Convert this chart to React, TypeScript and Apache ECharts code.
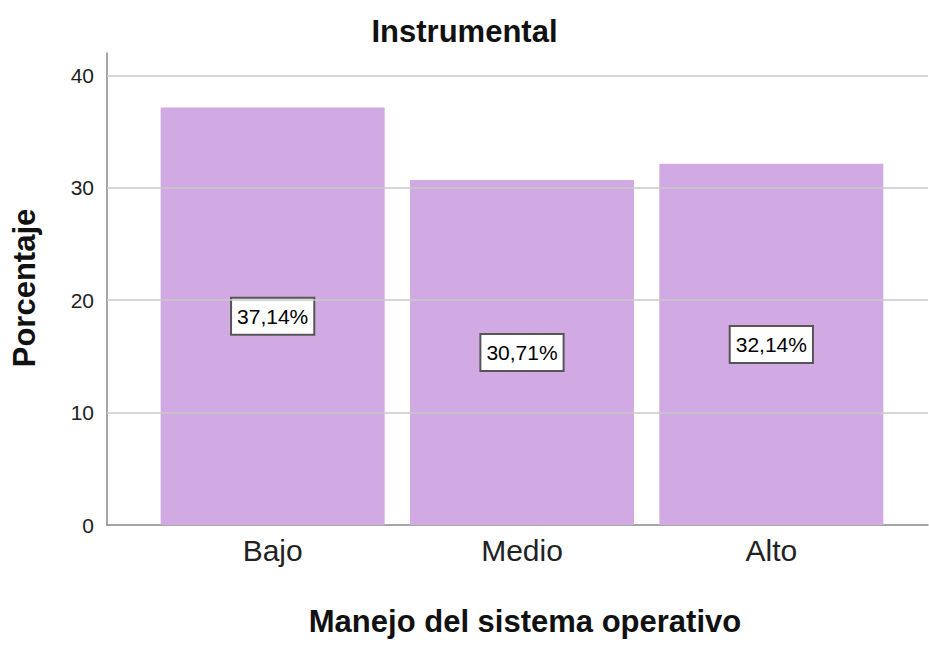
import React, { useEffect, useRef } from "react";
import * as echarts from "echarts";

const categories = ["Bajo", "Medio", "Alto"];
const values = [37.14, 30.71, 32.14];
const yTicks = [0, 10, 20, 30, 40];
const chartTitle = "Instrumental";
const xTitle = "Manejo del sistema operativo";
const yTitle = "Porcentaje";

const FONT = "'Liberation Sans', Arial, sans-serif";

export default function App() {
  const ref = useRef<HTMLDivElement>(null);
  useEffect(() => {
    document.body.style.margin = "0";
    const chart = echarts.init(ref.current!, null, { renderer: "svg" });
    const yMax = 42;
    chart.setOption({
      animation: false,
      backgroundColor: "#ffffff",
      title: {
        text: chartTitle,
        left: "center",
        top: 11,
        textStyle: { fontFamily: FONT, fontSize: 31, fontWeight: "bold", color: "#111" },
      },
      grid: [
        { left: 107, right: 1, top: 53, bottom: 121 },
        { left: 148, right: 33, top: 53, bottom: 121 },
      ],
      xAxis: [
        {
          gridIndex: 0,
          type: "value",
          min: 0,
          max: 1,
          axisLine: { show: true, onZero: false, lineStyle: { color: "#888", width: 1.5 } },
          axisTick: { show: false },
          axisLabel: { show: false },
          splitLine: { show: false },
        },
        {
          gridIndex: 1,
          type: "category",
          data: categories,
          axisLine: { show: false },
          axisTick: { show: false },
          axisLabel: { fontFamily: FONT, fontSize: 30, color: "#222", margin: 10 },
        },
      ],
      yAxis: [
        {
          gridIndex: 0,
          type: "value",
          min: 0,
          max: yMax,
          interval: 10,
          axisLine: { show: true, lineStyle: { color: "#888", width: 1.5 } },
          axisTick: { show: false },
          axisLabel: {
            fontFamily: FONT,
            fontSize: 21,
            color: "#222",
            margin: 13,
            formatter: (v: number) => (yTicks.includes(v) ? String(v) : ""),
          },
          splitLine: { show: false },
        },
        {
          gridIndex: 1,
          type: "value",
          min: 0,
          max: yMax,
          show: false,
          splitLine: { show: false },
        },
      ],
      graphic: [
        {
          type: "text",
          x: 24,
          y: 288,
          rotation: Math.PI / 2,
          style: {
            text: yTitle,
            fontFamily: FONT,
            fontSize: 31,
            fontWeight: "bold",
            fill: "#111",
            align: "center",
            verticalAlign: "middle",
          },
        },
        {
          type: "text",
          x: 525,
          y: 621,
          style: {
            text: xTitle,
            fontFamily: FONT,
            fontSize: 31,
            fontWeight: "bold",
            fill: "#111",
            align: "center",
            verticalAlign: "middle",
          },
        },
      ],
      series: [
        {
          type: "line",
          xAxisIndex: 0,
          yAxisIndex: 0,
          data: [],
          silent: true,
          markLine: {
            silent: true,
            symbol: "none",
            label: { show: false },
            lineStyle: { color: "#c8c8c8", width: 1.5, type: "solid" },
            data: yTicks.filter((t) => t > 0).map((t) => ({ yAxis: t })),
          },
          z: 0,
        },
        {
          type: "bar",
          xAxisIndex: 1,
          yAxisIndex: 1,
          data: values,
          barWidth: 224,
          z: 2,
          itemStyle: { color: "#d1aae4" },
          label: {
            show: true,
            position: "inside",
            formatter: (p: any) => p.value.toFixed(2).replace(".", ",") + "%",
            fontFamily: FONT,
            fontSize: 21,
            color: "#000",
            backgroundColor: "#ffffff",
            borderColor: "#555",
            borderWidth: 2,
            padding: [8, 5, 6, 5],
          },
        },
      ],
    });
    return () => chart.dispose();
  }, []);
  return <div ref={ref} style={{ width: 929, height: 646 }} />;
}
